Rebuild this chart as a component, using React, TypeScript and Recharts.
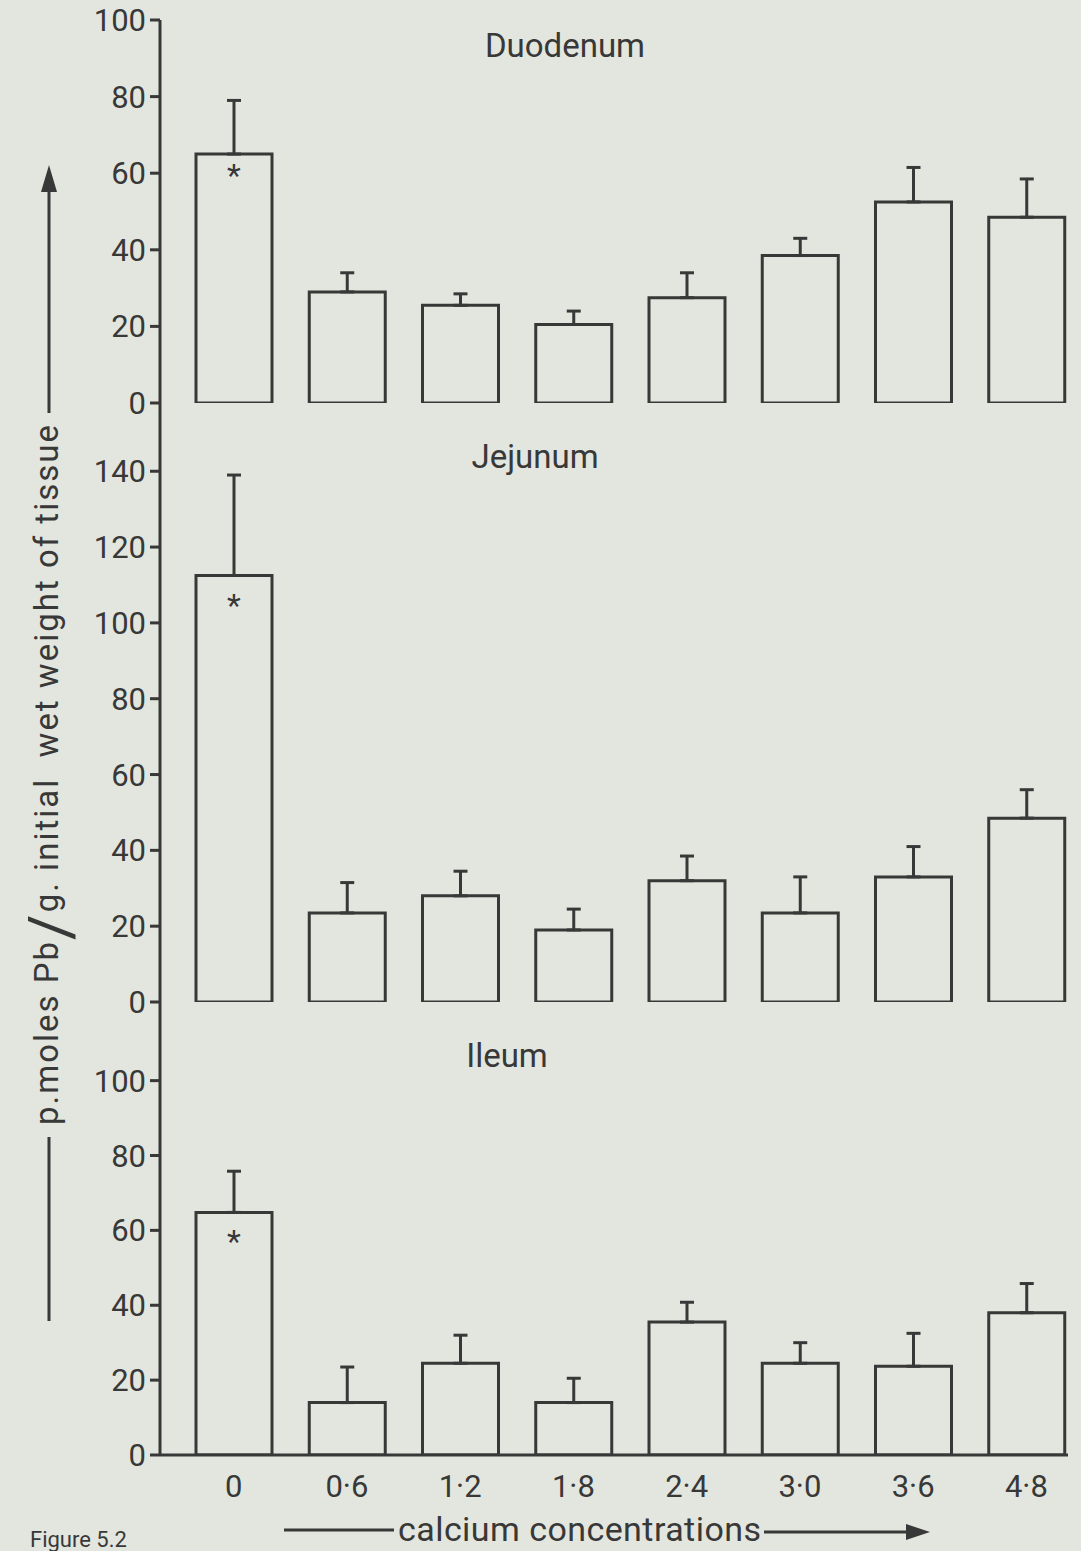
import React from 'react';
import { BarChart, Bar, XAxis, YAxis, ErrorBar, LabelList } from 'recharts';

// calcium concentrations (x categories)
const categories = ['0', '0·6', '1·2', '1·8', '2·4', '3·0', '3·6', '4·8'];
const marks = ['*', '', '', '', '', '', '', ''];

// p.moles Pb / g initial wet weight, mean and upper error
const duodenumMean = [65, 29, 25.5, 20.5, 27.5, 38.5, 52.5, 48.5];
const duodenumErr = [14, 5, 3, 3.5, 6.5, 4.5, 9, 10];
const jejunumMean = [112.5, 23.5, 28, 19, 32, 23.5, 33, 48.5];
const jejunumErr = [26.5, 8, 6.5, 5.5, 6.5, 9.5, 8, 7.5];
const ileumMean = [64.8, 14, 24.5, 14, 35.5, 24.5, 23.7, 38];
const ileumErr = [11, 9.5, 7.5, 6.5, 5.3, 5.5, 8.8, 7.8];

const duodenumTicks = [0, 20, 40, 60, 80, 100];
const jejunumTicks = [0, 20, 40, 60, 80, 100, 120, 140];
const ileumTicks = [0, 20, 40, 60, 80, 100];

const INK = '#383838';
const PAPER = '#e3e6de';
const FONT = 'Roboto, "DejaVu Sans", sans-serif';

const rowsOf = (means: number[], errs: number[]) =>
  categories.map((c, i) => ({ conc: c, mean: means[i], err: [0, errs[i]], mark: marks[i] }));

type PanelProps = {
  rows: any[];
  top: number;
  height: number;
  margin: { top: number; right: number; bottom: number; left: number };
  domain: [number, number];
  ticks: number[];
  starOffset: number;
  showX?: boolean;
};

const Panel = ({ rows, top, height, margin, domain, ticks, starOffset, showX }: PanelProps) => (
  <div style={{ position: 'absolute', left: 0, top }}>
    <BarChart width={1081} height={height} data={rows} margin={margin} barSize={76}>
      <XAxis
        dataKey="conc"
        interval={0}
        padding={{ left: 17, right: -15 }}
        axisLine={{ stroke: INK, strokeWidth: 3 }}
        tickLine={false}
        tickSize={0}
        tickMargin={20}
        height={showX ? 40 : 0}
        tick={showX ? { fill: INK, fontSize: 31, fontFamily: FONT } : false}
      />
      <YAxis
        domain={domain}
        ticks={ticks}
        interval={0}
        allowDataOverflow
        width={160}
        tickSize={10}
        tickMargin={4}
        axisLine={{ stroke: INK, strokeWidth: 3 }}
        tickLine={{ stroke: INK, strokeWidth: 3 }}
        tick={{ fill: INK, fontSize: 31, fontFamily: FONT }}
      />
      <Bar dataKey="mean" fill={PAPER} stroke={INK} strokeWidth={3} isAnimationActive={false}>
        <ErrorBar dataKey="err" direction="y" width={7} strokeWidth={3} stroke={INK} />
        <LabelList dataKey="mark" position="insideTop" offset={starOffset} fill={INK} fontSize={32} fontFamily={FONT} />
      </Bar>
    </BarChart>
  </div>
);

export default function App() {
  return (
    <div style={{ position: 'absolute', left: 0, top: 0, width: 1081, height: 1551, background: PAPER, overflow: 'hidden' }}>
      {/* lower panels first so that each upper panel's baseline stays on top */}
      <Panel rows={rowsOf(ileumMean, ileumErr)} top={980} height={571} starOffset={17}
        margin={{ top: 22, right: 13, bottom: 56, left: 0 }} domain={[0, 121]} ticks={ileumTicks} showX />
      <Panel rows={rowsOf(jejunumMean, jejunumErr)} top={380} height={650} starOffset={18}
        margin={{ top: 23, right: 13, bottom: 28, left: 0 }} domain={[0, 158]} ticks={jejunumTicks} />
      <Panel rows={rowsOf(duodenumMean, duodenumErr)} top={0} height={440} starOffset={9}
        margin={{ top: 20, right: 13, bottom: 37, left: 0 }} domain={[0, 100]} ticks={duodenumTicks} />

      <svg width={1081} height={1551} style={{ position: 'absolute', left: 0, top: 0, pointerEvents: 'none' }}
        fontFamily={FONT} fill={INK}>
        <text x={565} y={57} fontSize={33} textAnchor="middle">Duodenum</text>
        <text x={535} y={468} fontSize={33} textAnchor="middle">Jejunum</text>
        <text x={507} y={1067} fontSize={33} textAnchor="middle">Ileum</text>

        {/* y axis title */}
        <line x1={49} y1={1321} x2={49} y2={1137} stroke={INK} strokeWidth={3} />
        <line x1={49} y1={413} x2={49} y2={190} stroke={INK} strokeWidth={3} />
        <polygon points="49,165 41,192 57,192" fill={INK} />
        <text transform="translate(58,775) rotate(-90)" textAnchor="middle" fontSize={33}
          textLength={700} lengthAdjust="spacing" style={{ whiteSpace: 'pre' }}>
          p.moles Pb<tspan fontSize={62} dy={14}>/</tspan><tspan dy={-14}>g. initial  wet weight of tissue</tspan>
        </text>

        {/* x axis title */}
        <line x1={284} y1={1530} x2={394} y2={1530} stroke={INK} strokeWidth={3} />
        <text x={398} y={1541} fontSize={34} textLength={363} lengthAdjust="spacing">calcium concentrations</text>
        <line x1={764} y1={1532} x2={908} y2={1532} stroke={INK} strokeWidth={3} />
        <polygon points="930,1532 906,1524 906,1540" fill={INK} />

        <text x={30} y={1547} fontSize={22}>Figure 5.2</text>
      </svg>
    </div>
  );
}
